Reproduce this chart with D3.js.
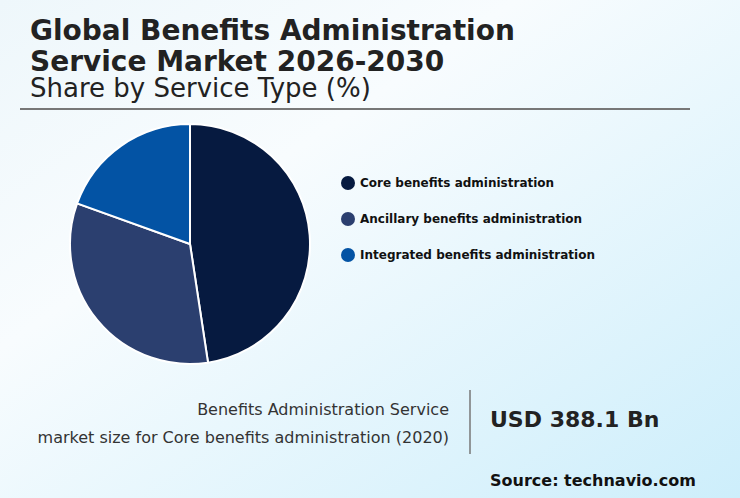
<!DOCTYPE html>
<html>
<head>
<meta charset="utf-8">
<script src="https://cdn.jsdelivr.net/npm/d3@7"></script>
<style>
  html, body { margin: 0; padding: 0; }
  body { width: 740px; height: 498px; overflow: hidden; }
  text { font-family: "DejaVu Sans", sans-serif; }
</style>
</head>
<body>
<div id="chart"></div>
<script>
const categories = ['Core benefits administration', 'Ancillary benefits administration', 'Integrated benefits administration'];
const shares = [47.6, 32.9, 19.5];
const colors = ['#061a40', '#2b3f6f', '#0353a4'];
const titleLines = ['Global Benefits Administration', 'Service Market 2026-2030'];
const subtitle = 'Share by Service Type (%)';
const noteLines = ['Benefits Administration Service', 'market size for Core benefits administration (2020)'];
const marketSize = 'USD 388.1 Bn';
const source = 'Source: technavio.com';

const width = 740, height = 498;

const svg = d3.select('#chart')
  .append('svg')
  .attr('width', width)
  .attr('height', height);

// background gradient
const grad = svg.append('defs').append('linearGradient')
  .attr('id', 'bg')
  .attr('x1', '0%').attr('y1', '0%')
  .attr('x2', '100%').attr('y2', '100%');
grad.append('stop').attr('offset', '0%').attr('stop-color', '#eef7fb');
grad.append('stop').attr('offset', '35%').attr('stop-color', '#f8fcfe');
grad.append('stop').attr('offset', '100%').attr('stop-color', '#cdeefb');

svg.append('rect')
  .attr('width', width)
  .attr('height', height)
  .attr('fill', 'url(#bg)');

// title
svg.selectAll('.title')
  .data(titleLines)
  .enter()
  .append('text')
  .attr('class', 'title')
  .attr('x', 30)
  .attr('y', (d, i) => 40 + i * 31)
  .attr('font-size', 28)
  .attr('font-weight', 'bold')
  .attr('fill', '#222')
  .text((d) => d);

svg.append('text')
  .attr('x', 30)
  .attr('y', 97)
  .attr('font-size', 26)
  .attr('fill', '#222')
  .text(subtitle);

svg.append('line')
  .attr('x1', 20).attr('x2', 690)
  .attr('y1', 109).attr('y2', 109)
  .attr('stroke', '#777')
  .attr('stroke-width', 2);

// pie
const radius = 120;
const pie = d3.pie().sort(null).value((d) => d);
const arc = d3.arc().innerRadius(0).outerRadius(radius);
const color = d3.scaleOrdinal().domain(categories).range(colors);

const g = svg.append('g')
  .attr('transform', 'translate(190, 244)');

g.selectAll('path')
  .data(pie(shares))
  .enter()
  .append('path')
  .attr('d', arc)
  .attr('fill', (d, i) => color(categories[i]))
  .attr('stroke', '#fff')
  .attr('stroke-width', 2);

// legend
const legend = svg.append('g')
  .attr('transform', 'translate(348, 183)');

const item = legend.selectAll('.item')
  .data(categories)
  .enter()
  .append('g')
  .attr('class', 'item')
  .attr('transform', (d, i) => `translate(0, ${i * 36})`);

item.append('circle')
  .attr('r', 7)
  .attr('fill', (d) => color(d));

item.append('text')
  .attr('x', 12)
  .attr('dy', '0.35em')
  .attr('font-size', 12)
  .attr('font-weight', 'bold')
  .attr('fill', '#111')
  .text((d) => d);

// bottom note
svg.selectAll('.note')
  .data(noteLines)
  .enter()
  .append('text')
  .attr('class', 'note')
  .attr('x', 449)
  .attr('y', (d, i) => 415 + i * 28)
  .attr('text-anchor', 'end')
  .attr('font-size', 16)
  .attr('fill', '#333')
  .text((d) => d);

svg.append('line')
  .attr('x1', 470).attr('x2', 470)
  .attr('y1', 390).attr('y2', 454)
  .attr('stroke', '#777')
  .attr('stroke-width', 1.5);

svg.append('text')
  .attr('x', 490)
  .attr('y', 427)
  .attr('font-size', 22)
  .attr('font-weight', 'bold')
  .attr('fill', '#222')
  .text(marketSize);

svg.append('text')
  .attr('x', 490)
  .attr('y', 486)
  .attr('font-size', 16)
  .attr('font-weight', 'bold')
  .attr('fill', '#111')
  .text(source);
</script>
</body>
</html>
